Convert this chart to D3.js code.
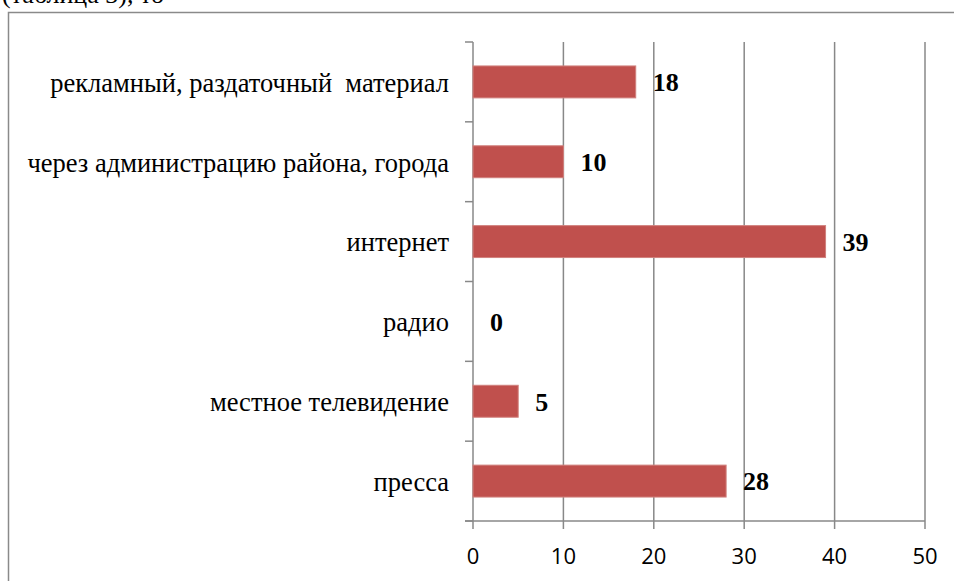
<!DOCTYPE html>
<html>
<head>
<meta charset="utf-8">
<script src="https://cdn.jsdelivr.net/npm/d3@7"></script>
<style>
  body { margin: 0; background: #fff; }
  svg { display: block; }
  .serif { font-family: "Liberation Serif", "Times New Roman", "DejaVu Serif", serif; }
  .sans { font-family: "Open Sans", "Liberation Sans", sans-serif; }
</style>
</head>
<body>
<div id="chart-area"></div>
<script>
// chart data, top to bottom
let categories = [
    "рекламный, раздаточный  материал",
    "через администрацию района, города",
    "интернет",
    "радио",
    "местное телевидение",
    "пресса"
];
let values = [18, 10, 39, 0, 5, 28];
let xTicks = [0, 10, 20, 30, 40, 50];

let data = categories.map(function (c, i) {
    return {name: c, value: values[i]};
});

let W = 954, H = 581;
let margin = {top: 42, left: 473, right: 29, bottom: 60};
let width = W - margin.left - margin.right,
    height = H - margin.top - margin.bottom;

let svg = d3.select("#chart-area")
    .append("svg")
    .attr("width", W)
    .attr("height", H);

// cut-off caption line of the page above the chart
svg.append("text")
    .attr("class", "serif")
    .attr("x", 2)
    .attr("y", 3)
    .attr("font-size", 26)
    .attr("fill", "#000")
    .text("(таблица 3), то");

// outer frame (only left and top edges visible)
svg.append("path")
    .attr("d", "M8.5," + H + "V12.5H" + W)
    .attr("fill", "none")
    .attr("stroke", "#8a8a8a")
    .attr("stroke-width", 1.5);

let g = svg.append("g")
    .attr("transform", "translate(" + margin.left + "," + margin.top + ")");

let x = d3.scaleLinear()
    .domain([0, 50])
    .range([0, width]);

let y = d3.scaleBand()
    .domain(categories)
    .range([0, height])
    .paddingInner(0.6)
    .paddingOuter(0.3);

// vertical gridlines
g.selectAll(".grid")
    .data(xTicks.slice(1))
    .enter()
    .append("line")
    .attr("class", "grid")
    .attr("x1", function (d) { return x(d); })
    .attr("x2", function (d) { return x(d); })
    .attr("y1", 0)
    .attr("y2", height + 8)
    .attr("stroke", "#888")
    .attr("stroke-width", 1.5);

// category axis (ticks between categories)
let bandStep = height / categories.length;
let catTicks = d3.range(categories.length + 1).map(function (i) { return i * bandStep; });

g.append("line")
    .attr("x1", 0).attr("x2", 0)
    .attr("y1", 0).attr("y2", height + 8)
    .attr("stroke", "#888")
    .attr("stroke-width", 1.5);

g.selectAll(".ytick")
    .data(catTicks)
    .enter()
    .append("line")
    .attr("class", "ytick")
    .attr("x1", -8)
    .attr("x2", 0)
    .attr("y1", function (d) { return d; })
    .attr("y2", function (d) { return d; })
    .attr("stroke", "#888")
    .attr("stroke-width", 1.5);

// bottom axis line
g.append("line")
    .attr("x1", -8).attr("x2", width)
    .attr("y1", height).attr("y2", height)
    .attr("stroke", "#888")
    .attr("stroke-width", 1.5);

// x tick labels
g.selectAll(".xlabel")
    .data(xTicks)
    .enter()
    .append("text")
    .attr("class", "xlabel sans")
    .attr("x", function (d) { return x(d); })
    .attr("y", height + 43)
    .attr("text-anchor", "middle")
    .attr("font-size", 22)
    .attr("fill", "#000")
    .text(function (d) { return d; });

// category labels
g.selectAll(".ylabel")
    .data(data)
    .enter()
    .append("text")
    .attr("class", "ylabel serif")
    .attr("x", -24)
    .attr("y", function (d) { return y(d.name) + y.bandwidth() / 2; })
    .attr("dy", "0.37em")
    .attr("text-anchor", "end")
    .attr("font-size", 26.5)
    .attr("fill", "#000")
    .style("white-space", "pre")
    .text(function (d) { return d.name; });

// bars
g.selectAll(".bar")
    .data(data)
    .enter()
    .append("rect")
    .attr("class", "bar")
    .attr("x", x(0))
    .attr("y", function (d) { return y(d.name); })
    .attr("width", function (d) { return x(d.value) - x(0); })
    .attr("height", y.bandwidth())
    .attr("fill", "#C0504D")
    .attr("stroke", function (d) { return d.value > 0 ? "#d0807d" : "none"; })
    .attr("stroke-width", 1);

// value labels
g.selectAll(".value")
    .data(data)
    .enter()
    .append("text")
    .attr("class", "value serif")
    .attr("x", function (d) { return x(d.value) + 17; })
    .attr("y", function (d) { return y(d.name) + y.bandwidth() / 2; })
    .attr("dy", "0.36em")
    .attr("font-weight", "bold")
    .attr("font-size", 26)
    .attr("fill", "#000")
    .text(function (d) { return d.value; });
</script>
</body>
</html>
